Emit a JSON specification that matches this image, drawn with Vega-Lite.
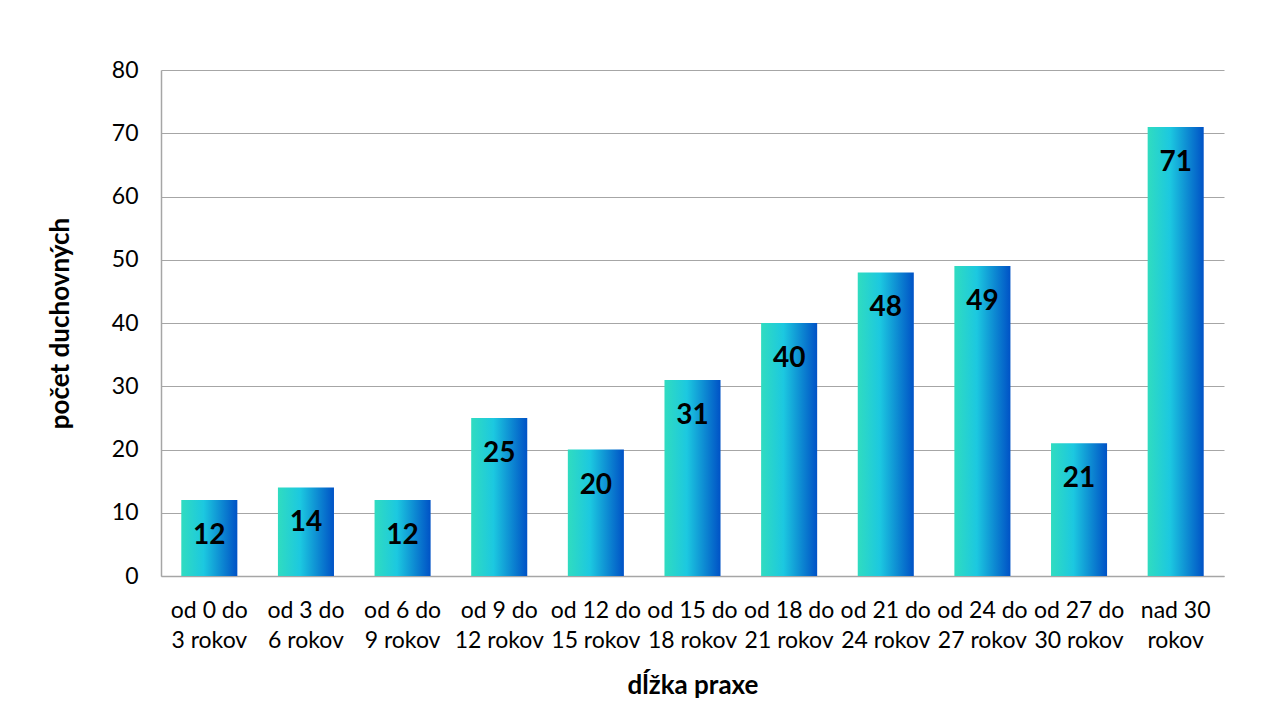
{
  "$schema": "https://vega.github.io/schema/vega-lite/v6.json",
  "autosize": {"type": "none"},
  "width": 1063,
  "height": 506,
  "padding": {"left": 161, "top": 70, "right": 49, "bottom": 131},
  "background": "white",
  "config": {
    "font": "Lato",
    "view": {"stroke": null},
    "axis": {"labelFont": "Lato", "titleFont": "Lato", "labelColor": "#000", "titleColor": "#000"}
  },
  "data": {
    "values": [
      {"k": "od 0 do|3 rokov", "v": 12},
      {"k": "od 3 do|6 rokov", "v": 14},
      {"k": "od 6 do|9 rokov", "v": 12},
      {"k": "od 9 do|12 rokov", "v": 25},
      {"k": "od 12 do|15 rokov", "v": 20},
      {"k": "od 15 do|18 rokov", "v": 31},
      {"k": "od 18 do|21 rokov", "v": 40},
      {"k": "od 21 do|24 rokov", "v": 48},
      {"k": "od 24 do|27 rokov", "v": 49},
      {"k": "od 27 do|30 rokov", "v": 21},
      {"k": "nad 30|rokov", "v": 71}
    ]
  },
  "encoding": {
    "x": {
      "field": "k", "type": "nominal", "sort": null,
      "scale": {"paddingInner": 0.42, "paddingOuter": 0.21},
      "axis": {
        "title": "dĺžka praxe", "titleFontSize": 26, "titleFontWeight": "bold", "titlePadding": 20,
        "labelExpr": "split(datum.label, '|')", "labelAngle": 0, "labelFontSize": 23,
        "labelLineHeight": 30, "labelPadding": 23, "ticks": false,
        "domainColor": "#a6a6a6", "domainWidth": 1.5
      }
    },
    "y": {
      "field": "v", "type": "quantitative",
      "scale": {"domain": [0, 80]},
      "axis": {
        "title": "počet duchovných", "titleFontSize": 26, "titleFontWeight": "bold", "titlePadding": 38,
        "values": [0, 10, 20, 30, 40, 50, 60, 70, 80], "labelFontSize": 23, "labelPadding": 23,
        "ticks": false, "domainColor": "#a6a6a6", "domainWidth": 1.5,
        "gridColor": "#a6a6a6", "gridWidth": 1.2
      }
    }
  },
  "layer": [
    {
      "mark": {
        "type": "bar",
        "color": {
          "gradient": "linear", "x1": 0, "x2": 1, "y1": 0, "y2": 0,
          "stops": [
            {"offset": 0, "color": "#30dcc0"},
            {"offset": 0.4, "color": "#1cc8e0"},
            {"offset": 1, "color": "#0052c6"}
          ]
        }
      }
    },
    {
      "mark": {"type": "text", "baseline": "middle", "dy": 36, "fontSize": 28, "fontWeight": "bold", "color": "#000", "font": "Lato"},
      "encoding": {"text": {"field": "v", "type": "quantitative"}}
    }
  ]
}
